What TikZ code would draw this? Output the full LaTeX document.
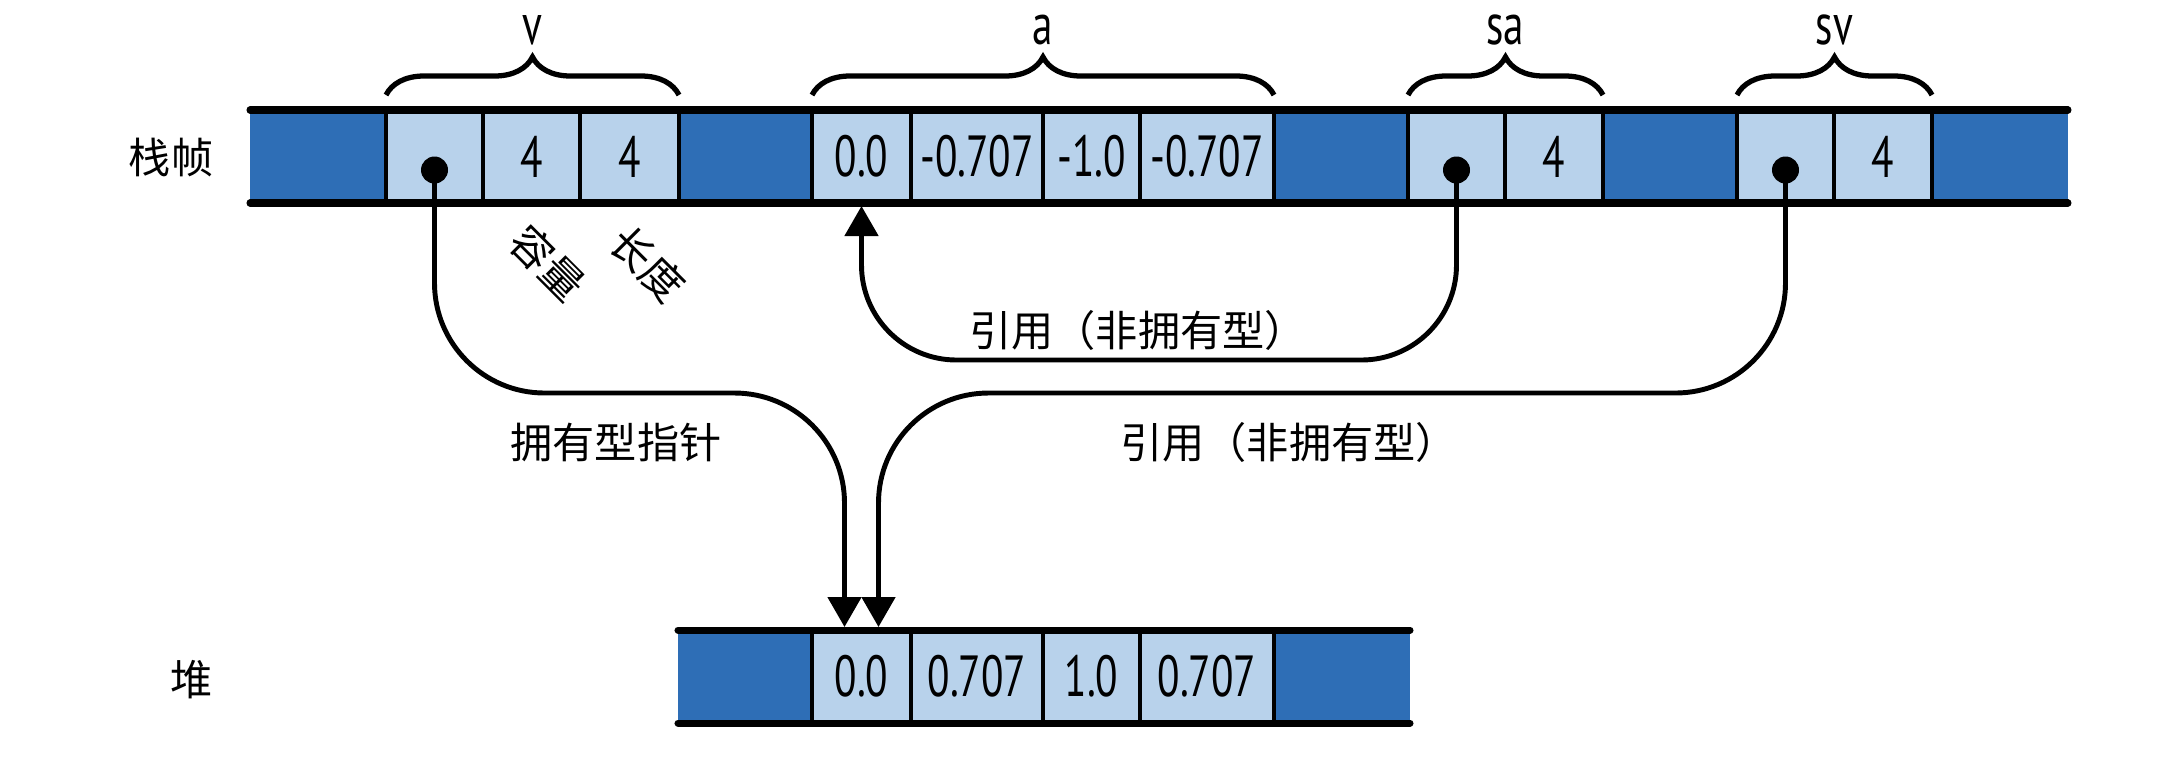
\documentclass[tikz,border=0pt]{standalone}
\usepackage{fontspec}
\setmainfont{PT Sans}[FakeStretch=0.71]
\newfontfamily\cjk{Noto Sans CJK SC}
\usetikzlibrary{positioning,arrows.meta,decorations.pathreplacing,calc}
\definecolor{darkcell}{RGB}{46,110,182}
\definecolor{lightcell}{RGB}{184,210,235}
\tikzstyle{dk}=[rectangle,fill=darkcell,minimum height=9.3mm,inner sep=0pt,outer sep=0pt]
\tikzstyle{lt}=[rectangle,fill=lightcell,minimum height=9.3mm,inner sep=0pt,outer sep=0pt,font=\fontsize{16.5}{18}\selectfont]
\tikzstyle{sep}=[line width=1.4pt]
\tikzstyle{barline}=[line width=2pt,line cap=round]
\tikzstyle{dot}=[circle,fill,inner sep=0pt,minimum size=2.7mm]
\tikzstyle{brc}=[decorate,decoration={brace,amplitude=3.8mm},line width=1.5pt]
\tikzstyle{arr}=[-{Triangle[width=3.3mm,length=3mm]},line width=1.4pt,shorten >=0.3mm]
\tikzstyle{var}=[font=\fontsize{16.5}{18}\selectfont,anchor=base]
\tikzstyle{cn}=[font=\cjk\fontsize{12}{14}\selectfont]

\begin{document}
\begin{tikzpicture}[x=0.1mm,y=-0.1mm]
\useasboundingbox (0,0) rectangle (2184,772);
% stack frame
\node[dk,minimum width=13.6mm,anchor=west] (s0) at (250,156.5) {};
\node[lt,minimum width=9.7mm,right=0pt of s0] (s1) {};
\node[lt,minimum width=9.7mm,right=0pt of s1] (s2) {4};
\node[lt,minimum width=9.9mm,right=0pt of s2] (s3) {4};
\node[dk,minimum width=13.3mm,right=0pt of s3] (s4) {};
\node[lt,minimum width=9.9mm,right=0pt of s4] (s5) {0.0};
\node[lt,minimum width=13.2mm,right=0pt of s5] (s6) {-0.707};
\node[lt,minimum width=9.7mm,right=0pt of s6] (s7) {-1.0};
\node[lt,minimum width=13.4mm,right=0pt of s7] (s8) {-0.707};
\node[dk,minimum width=13.4mm,right=0pt of s8] (s9) {};
\node[lt,minimum width=9.7mm,right=0pt of s9] (s10) {};
\node[lt,minimum width=9.8mm,right=0pt of s10] (s11) {4};
\node[dk,minimum width=13.4mm,right=0pt of s11] (s12) {};
\node[lt,minimum width=9.7mm,right=0pt of s12] (s13) {};
\node[lt,minimum width=9.8mm,right=0pt of s13] (s14) {4};
\node[dk,minimum width=13.6mm,right=0pt of s14] (s15) {};
% heap
\node[dk,minimum width=13.4mm,anchor=west] (h0) at (678,676.5) {};
\node[lt,minimum width=9.9mm,right=0pt of h0] (h1) {0.0};
\node[lt,minimum width=13.2mm,right=0pt of h1] (h2) {0.707};
\node[lt,minimum width=9.7mm,right=0pt of h2] (h3) {1.0};
\node[lt,minimum width=13.4mm,right=0pt of h3] (h4) {0.707};
\node[dk,minimum width=13.6mm,right=0pt of h4] (h5) {};

\foreach \c in {s1,s2,s3,s5,s6,s7,s8,s10,s11,s13,s14,h1,h2,h3,h4}
  \draw[sep] (\c.north west) -- (\c.south west) (\c.north east) -- (\c.south east);
\draw[barline] (s0.north west) -- (s15.north east);
\draw[barline] (s0.south west) -- (s15.south east);
\draw[barline] (h0.north west) -- (h5.north east);
\draw[barline] (h0.south west) -- (h5.south east);

% braces and names
\draw[brc] ($(s1.north west)+(0,-15)$) -- ($(s3.north east)+(0,-15)$);
\draw[brc] ($(s5.north west)+(0,-15)$) -- ($(s8.north east)+(0,-15)$);
\draw[brc] ($(s10.north west)+(0,-15)$) -- ($(s11.north east)+(0,-15)$);
\draw[brc] ($(s13.north west)+(0,-15)$) -- ($(s14.north east)+(0,-15)$);
\node[var] (lv) at ($(s1.north west)!.5!(s3.north east)+(0,-66)$) {v};
\node[var] (la) at ($(s5.north west)!.5!(s8.north east)+(0,-66)$) {a};
\node[var] (lsa) at ($(s10.north west)!.5!(s11.north east)+(0,-66)$) {sa};
\node[var] (lsv) at ($(s13.north west)!.5!(s14.north east)+(0,-66)$) {sv};

\node[cn] (stk) at (171,158) {栈帧};
\node[cn] (hp) at (192,680) {堆};
\node[cn,rotate=-45,inner sep=0pt] (cap) at (548,263) {容量};
\node[cn,rotate=-45,inner sep=0pt] (len) at (648,264) {长度};

% pointers
\node[dot,yshift=-1.35mm] (dv) at (s1) {};
\node[dot,yshift=-1.35mm] (dsa) at (s10) {};
\node[dot,yshift=-1.35mm] (dsv) at (s13) {};
\coordinate (upper) at (0,360);
\coordinate (lower) at (0,393);
\coordinate (own) at ($(h1.north)+(-17,0)$);
\coordinate (ref) at ($(h1.north)+(17,0)$);
\draw[arr,rounded corners=9.5mm] (dsa.center) |- (upper -| s5.south) -- (s5.south);
\draw[arr,rounded corners=11mm] (dv.center) |- (lower -| own) -- (own);
\draw[arr,rounded corners=11mm] (dsv.center) |- (lower -| ref) -- (ref);

\node[cn] (r1) at (1138,330) {引用（非拥有型）};
\node[cn] (ol) at (616,442) {拥有型指针};
\node[cn] (r2) at (1289,442) {引用（非拥有型）};
\end{tikzpicture}
\end{document}
